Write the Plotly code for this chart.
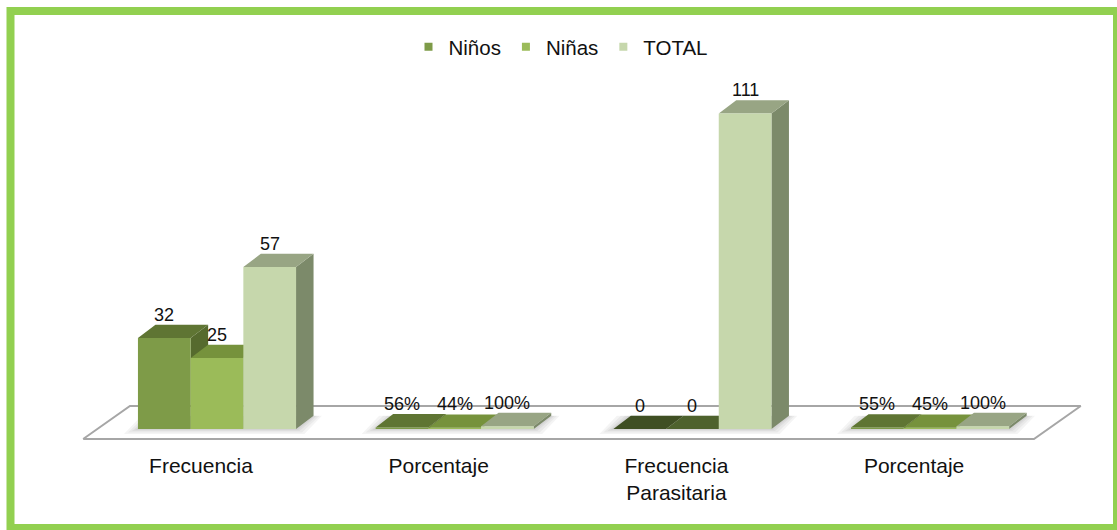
import plotly.graph_objects as go

# ---------------- data ----------------
categories = ["Frecuencia", "Porcentaje", "Frecuencia<br>Parasitaria", "Porcentaje"]
series_names = ["Niños", "Niñas", "TOTAL"]
ninos = [32, 0.56, 0, 0.55]
ninas = [25, 0.44, 0, 0.45]
total = [57, 1.00, 111, 1.00]
is_percent = [False, True, False, True]

series_values = [ninos, ninas, total]

# ---------------- style ----------------
front_colors = ["#7E9B48", "#9BBB59", "#C6D7AC"]
top_colors = ["#5F7533", "#76923C", "#98A584"]
side_colors = ["#566A2E", "#6E8838", "#7C8A6A"]
zero_colors = ["#3F4F23", "#4E622D", "#6B765C"]
legend_colors = ["#7E9B48", "#9BBB59", "#C6D7AC"]
FONT = "Liberation Sans, Arial, sans-serif"

W, H = 1117, 530
PX_PER_CAT = 237.7      # px between category centers
CAT0_PX = 217           # px of first category center (front faces)
BASE_PX = 429           # px of value 0 (front)
PX_PER_UNIT = 2.842     # px per value unit
PLOT_TOP_PX = 70
PLOT_BOTTOM_PX = 445

x_range = [(0 - CAT0_PX) / PX_PER_CAT, (W - CAT0_PX) / PX_PER_CAT]
y_range = [(BASE_PX - PLOT_BOTTOM_PX) / PX_PER_UNIT, (BASE_PX - PLOT_TOP_PX) / PX_PER_UNIT]

BAR_W = 52.7 / PX_PER_CAT
DX = 17.5 / PX_PER_CAT
DY = 13.3 / PX_PER_UNIT

# floor (parallelogram) geometry, relative to category slots
FLOOR_FRONT_DX = -15.0 / PX_PER_CAT
FLOOR_BACK_DX = 31.8 / PX_PER_CAT
FLOOR_FRONT_Y = (BASE_PX - 439) / PX_PER_UNIT
FLOOR_BACK_Y = (BASE_PX - 406) / PX_PER_UNIT
LABEL_DX = -16.0 / PX_PER_CAT

n_cat = len(categories)
n_ser = len(series_names)

fig = go.Figure()

# floor
fl_x0 = -0.5
fl_x1 = n_cat - 0.5
fig.add_trace(go.Scatter(
    x=[fl_x0 + FLOOR_FRONT_DX, fl_x1 + FLOOR_FRONT_DX, fl_x1 + FLOOR_BACK_DX,
       fl_x0 + FLOOR_BACK_DX, fl_x0 + FLOOR_FRONT_DX],
    y=[FLOOR_FRONT_Y, FLOOR_FRONT_Y, FLOOR_BACK_Y, FLOOR_BACK_Y, FLOOR_FRONT_Y],
    mode="lines", fill="toself", fillcolor="white",
    line=dict(color="#A6A6A6", width=2),
    hoverinfo="skip", showlegend=False))


def bar_left(i, j):
    return i + (j - n_ser / 2) * BAR_W


def poly_trace(xs, ys, color):
    return go.Scatter(x=xs, y=ys, mode="lines", fill="toself", fillcolor=color,
                      line=dict(width=0, color=color), hoverinfo="skip",
                      showlegend=False)


# soft shadows under each group footprint
for e_px in (14, 10, 6, 3):
    ex = e_px / PX_PER_CAT
    ey = (e_px * 0.35) / PX_PER_UNIT
    sx, sy = [], []
    for i in range(n_cat):
        x0 = bar_left(i, 0) - ex
        x1 = bar_left(i, n_ser - 1) + BAR_W + ex * 0.6
        sx += [x0, x1, x1 + DX, x0 + DX, x0, None]
        sy += [-ey, -ey, DY, DY, -ey, None]
    fig.add_trace(poly_trace(sx, sy, "rgba(0,0,0,0.045)"))

for j in range(n_ser):
    vals = series_values[j]
    side_x, side_y = [], []
    top_x, top_y = [], []
    zero_x, zero_y = [], []
    front_x, front_y = [], []
    for i, v in enumerate(vals):
        xl = bar_left(i, j)
        xr = xl + BAR_W
        side_x += [xr, xr + DX, xr + DX, xr, xr, None]
        side_y += [0, DY, v + DY, v, 0, None]
        tx = [xl, xr, xr + DX, xl + DX, xl, None]
        ty = [v, v, v + DY, v + DY, v, None]
        if v == 0:
            zero_x += tx
            zero_y += ty
        else:
            top_x += tx
            top_y += ty
        front_x += [xl, xr, xr, xl, xl, None]
        front_y += [0, 0, v, v, 0, None]
    fig.add_trace(poly_trace(side_x, side_y, side_colors[j]))
    if top_x:
        fig.add_trace(poly_trace(top_x, top_y, top_colors[j]))
    if zero_x:
        fig.add_trace(poly_trace(zero_x, zero_y, zero_colors[j]))
    fig.add_trace(poly_trace(front_x, front_y, front_colors[j]))

# legend entries
for j, name in enumerate(series_names):
    fig.add_trace(go.Scatter(
        x=[None], y=[None], mode="markers", name=name,
        marker=dict(symbol="square", size=8, color=legend_colors[j])))

# data labels
annotations = []
for j in range(n_ser):
    for i, v in enumerate(series_values[j]):
        txt = f"{v * 100:.0f}%" if is_percent[i] else f"{v:.0f}"
        annotations.append(dict(
            x=bar_left(i, j) + BAR_W / 2, y=v + DY, xref="x", yref="y",
            text=txt, showarrow=False, yanchor="bottom", yshift=-2,
            font=dict(family=FONT, size=18, color="#111111")))

fig.update_layout(
    width=W, height=H,
    margin=dict(l=0, r=0, t=0, b=0),
    paper_bgcolor="white", plot_bgcolor="white",
    font=dict(family=FONT, color="#111111"),
    xaxis=dict(range=x_range, domain=[0, 1], showgrid=False, zeroline=False,
               showline=False, ticks="", automargin=False,
               tickmode="array", tickvals=[i + LABEL_DX for i in range(n_cat)],
               ticktext=categories, tickfont=dict(family=FONT, size=21, color="#111111"),
               ticklabelstandoff=6),
    yaxis=dict(range=y_range, domain=[(H - PLOT_BOTTOM_PX) / H, (H - PLOT_TOP_PX) / H],
               visible=False, automargin=False),
    showlegend=True,
    legend=dict(orientation="h", x=561 / W, xanchor="center", y=1 - 47 / H,
                yanchor="middle", font=dict(family=FONT, size=20.5, color="#111111"),
                bgcolor="rgba(0,0,0,0)", itemwidth=30),
    annotations=annotations,
    shapes=[dict(type="rect", xref="paper", yref="paper",
                 x0=10.5 / W, x1=1117 / W, y0=1 - 528 / H, y1=1 - 11 / H,
                 line=dict(color="#92D050", width=8), fillcolor="rgba(0,0,0,0)",
                 layer="above")],
)

fig.write_html("out.html")
